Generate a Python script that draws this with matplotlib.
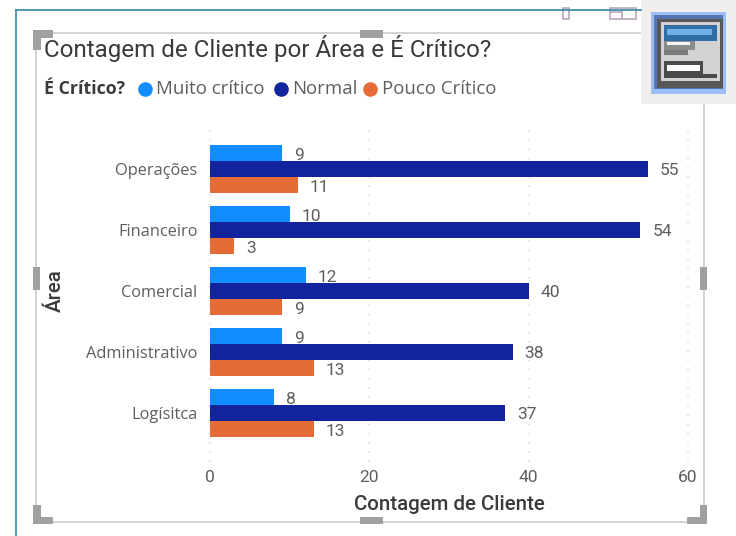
import numpy as np
import matplotlib
matplotlib.use('Agg')
import matplotlib.pyplot as plt
from matplotlib.patches import Rectangle

areas = ['Operações', 'Financeiro', 'Comercial', 'Administrativo', 'Logísitca']
muito_critico = [9, 10, 12, 9, 8]
normal = [55, 54, 40, 38, 37]
pouco_critico = [11, 3, 9, 13, 13]
x_ticks = [0, 20, 40, 60]

c_muito = '#118DFF'
c_normal = '#12239E'
c_pouco = '#E66C37'
c_text = '#605E5C'
c_dark = '#3A3A3A'
c_frame = '#CCCCCC'
c_handle = '#A0A0A0'

W, H = 736, 536
plt.rcParams['font.family'] = ['Roboto', 'DejaVu Sans']

fig = plt.figure(figsize=(W / 100, H / 100), dpi=100, facecolor='white')

# plot area, in pixels of the screenshot
left, right, top, bottom = 210, 688, 126, 462
ax = fig.add_axes([left / W, 1 - bottom / H, (right - left) / W, (bottom - top) / H])

y = np.arange(len(areas))
h = 0.262
b1 = ax.barh(y - h, muito_critico, h, color=c_muito, zorder=2)
b2 = ax.barh(y, normal, h, color=c_normal, zorder=3)
b3 = ax.barh(y + h, pouco_critico, h, color=c_pouco, zorder=2)

for bars, dy in ((b1, -2), (b2, -1), (b3, -2)):
    for bar in bars:
        ax.annotate(str(int(bar.get_width())),
                    (bar.get_width(), bar.get_y() + bar.get_height() / 2),
                    xytext=(12, dy), textcoords='offset pixels', ha='left', va='center',
                    fontsize=12.5, color=c_text, zorder=1)

ax.set_xlim(0, 60)
ax.set_ylim(4.8, -0.705)
ax.set_xticks(x_ticks)
ax.set_yticks(y, areas)
ax.grid(axis='x', color='#DEDEDE', linestyle=(0, (1, 4.5)), linewidth=1.2, zorder=0, clip_on=False)
ax.set_axisbelow(True)
for s in ax.spines.values():
    s.set_visible(False)
ax.tick_params(axis='both', length=0, labelcolor=c_text, labelsize=12.5)
ax.tick_params(axis='y', pad=9)
ax.tick_params(axis='x', pad=6)
for lab in ax.get_yticklabels():
    lab.set_fontfamily(['Open Sans', 'DejaVu Sans'])
    lab.set_fontsize(11.8)
    lab.set_y(lab.get_position()[1])

# overlay in pixel coordinates for the report frame, texts and icon
ov = fig.add_axes([0, 0, 1, 1], facecolor='none')
ov.set_xlim(0, W)
ov.set_ylim(H, 0)
ov.axis('off')

ov.plot([16, 16], [H, 10], color='#2E86A8', lw=1.2)
ov.plot([16, 641], [10, 10], color='#2E86A8', lw=1.2)
ov.add_patch(Rectangle((36, 33), 668, 489, fill=False, ec=c_frame, lw=1.2))

# resize handles
for x0, y0, w0, h0 in [(33, 30, 20, 8), (33, 30, 8, 20), (360, 30, 23, 8),
                       (33, 517, 20, 7), (33, 505, 8, 19), (360, 517, 23, 7),
                       (687, 517, 20, 7), (700, 505, 7, 19),
                       (33, 267, 7, 23), (700, 267, 7, 23)]:
    ov.add_patch(Rectangle((x0, y0), w0, h0, color=c_handle, lw=0))

# header icons, cut off at the top
ov.add_patch(Rectangle((563, 8), 6, 11, fill=False, ec='#B9A4BC', lw=1.2))
ov.add_patch(Rectangle((610, 8), 26, 11, fill=False, ec='#B9A4BC', lw=1.2))
ov.plot([610, 622], [12, 12], color='#B9A4BC', lw=1.2)
ov.plot([622, 622], [12, 19], color='#B9A4BC', lw=1.2)

# selected visual icon
ov.add_patch(Rectangle((641, 0), 95, 104, color='#F0EFED', lw=0))
ov.add_patch(Rectangle((651, 12), 75, 82, color='#9DBDF5', lw=0))
ov.add_patch(Rectangle((654, 15), 69, 74, color='#5577B5', lw=0))
ov.add_patch(Rectangle((657, 19), 66, 69, color='#585858', lw=0))
ov.add_patch(Rectangle((661, 22), 59, 59, color='#D2D2D2', lw=0))
ov.add_patch(Rectangle((664, 25), 53, 16, color='#2F6FA5', lw=0))
ov.add_patch(Rectangle((667, 29), 45, 6, color='#6FB0E8', lw=0))
ov.add_patch(Rectangle((664, 41), 31, 9, color='#8C8C8C', lw=0))
ov.add_patch(Rectangle((667, 42), 23, 3, color='#FAFAFA', lw=0))
ov.add_patch(Rectangle((664, 50), 24, 5, color='#7A7A7A', lw=0))
ov.add_patch(Rectangle((664, 61), 39, 13, color='#4A4A4A', lw=0))
ov.add_patch(Rectangle((667, 65), 33, 6, color='#FAFAFA', lw=0))
ov.add_patch(Rectangle((664, 74), 53, 4, color='#4A4A4A', lw=0))

ov.text(44, 48, 'Contagem de Cliente por Área e É Crítico?', fontsize=17.4,
        color=c_dark, va='center', ha='left')

leg_font = ['Open Sans', 'DejaVu Sans']
ov.text(44, 89, 'É Crítico?', fontsize=12.8, color=c_dark, fontweight='bold',
        va='center', ha='left', family=leg_font)
for cx, tx, col, lab in [(145, 156, c_muito, 'Muito crítico'),
                         (281, 292, c_normal, 'Normal'),
                         (370, 382, c_pouco, 'Pouco Crítico')]:
    ov.plot(cx, 89, 'o', color=col, ms=10.5, mew=0)
    ov.text(tx, 89, lab, fontsize=13.4, color=c_text, va='center', ha='left', family=leg_font)

ov.text(449, 504, 'Contagem de Cliente', fontsize=14.8, color=c_dark, va='center',
        ha='center', fontweight='medium')
ov.text(55, 291, 'Área', fontsize=14.8, color=c_dark, va='center', ha='center',
        rotation=90, fontweight='medium')

fig.savefig('out.png', dpi=100)
